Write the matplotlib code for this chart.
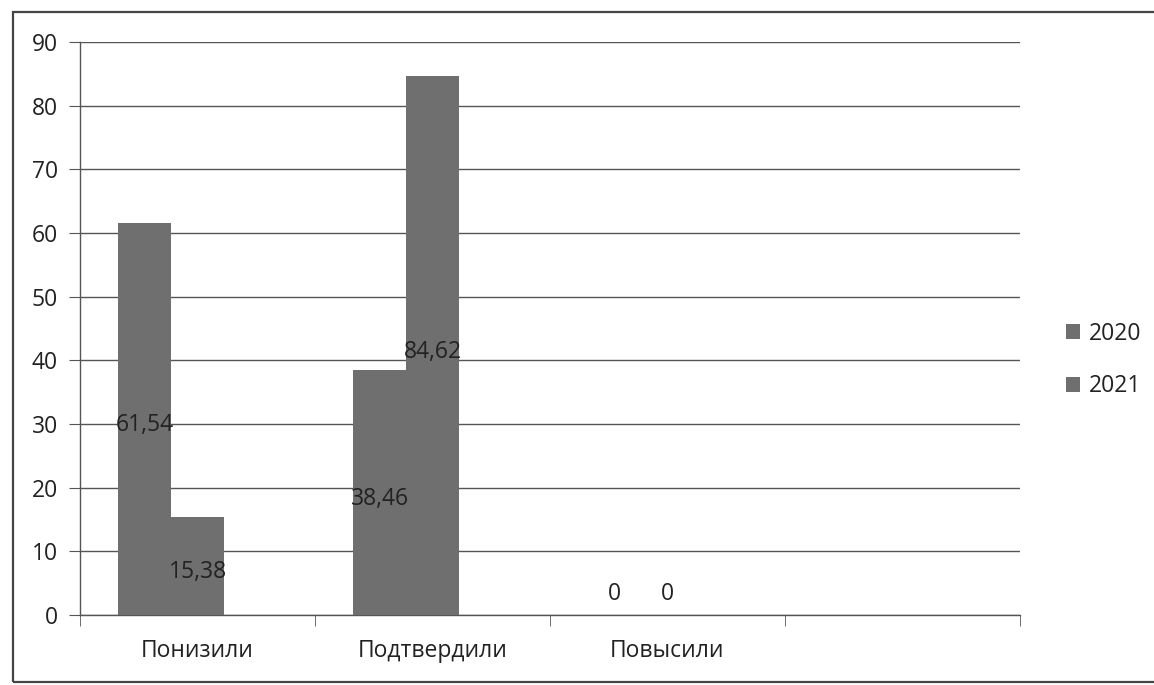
import numpy as np
import matplotlib.pyplot as plt
from matplotlib.patches import Rectangle

plt.rcParams["font.family"] = ["Open Sans", "DejaVu Sans"]

categories = ["Понизили", "Подтвердили", "Повысили", ""]
series_names = ["2020", "2021"]
values_2020 = [61.54, 38.46, 0, np.nan]
values_2021 = [15.38, 84.62, 0, np.nan]
value_labels_2020 = ["61,54", "38,46", "0", ""]
value_labels_2021 = ["15,38", "84,62", "0", ""]

bar_color = "#6f6f6f"
text_color = "#222222"
line_color = "#555555"

fig = plt.figure(figsize=(11.54, 6.85), dpi=100)
# рамка вокруг диаграммы
fig.patches.append(Rectangle((13 / 1154, 3 / 685), 1.2, 670 / 685, transform=fig.transFigure,
                             fill=False, edgecolor="#444444", linewidth=1.6))

ax = fig.add_axes([80 / 1154, 1 - 615 / 685, 940 / 1154, 573 / 685])

x = np.arange(len(categories))
shift = -0.112
width = 0.225
x1 = x + shift - width / 2
x2 = x + shift + width / 2

ax.bar(x1, values_2020, width, color=bar_color, label=series_names[0], zorder=3)
ax.bar(x2, values_2021, width, color=bar_color, label=series_names[1], zorder=3)

for xs, vals, labs in [(x1, values_2020, value_labels_2020), (x2, values_2021, value_labels_2021)]:
    for xi, v, lab in zip(xs, vals, labs):
        if not lab:
            continue
        y = v / 2 - 1.0 if v > 0 else 3.3
        ax.text(xi, y, lab, ha="center", va="center", fontsize=16.5, color=text_color, zorder=4)

ax.set_xlim(-0.5, len(categories) - 0.5)
ax.set_ylim(0, 90)
ax.set_yticks(np.arange(0, 91, 10))
ax.yaxis.grid(True, color=line_color, linewidth=1.0, zorder=0)
ax.set_axisbelow(True)

ax.set_xticks(x)
ax.set_xticklabels(categories, fontsize=16.5, color=text_color)
ax.tick_params(axis="x", length=0, pad=17)
ax.set_xticks(np.arange(-0.5, len(categories)), minor=True)
ax.tick_params(axis="x", which="minor", length=8, color=line_color, direction="out")
ax.tick_params(axis="y", length=8, color=line_color, labelsize=16.5, labelcolor=text_color, pad=8)

for s in ["top", "right"]:
    ax.spines[s].set_visible(False)
for s in ["left", "bottom"]:
    ax.spines[s].set_color(line_color)
    ax.spines[s].set_linewidth(1.0)

ax.legend(loc="center left", bbox_to_anchor=(1.027, 0.445), frameon=False, fontsize=16.5,
          handlelength=0.6, handleheight=0.6, handletextpad=0.4, labelspacing=1.25,
          labelcolor=text_color)

plt.savefig("out.png", dpi=100)
